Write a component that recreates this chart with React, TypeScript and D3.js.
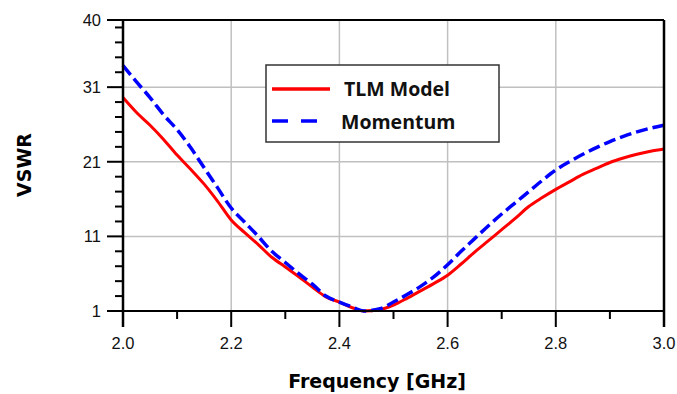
import React from 'react';
import * as d3 from 'd3';

const freq = [2.0, 2.025, 2.05, 2.075, 2.1, 2.125, 2.15, 2.175, 2.2, 2.225, 2.25, 2.275, 2.3, 2.325, 2.35, 2.375, 2.4, 2.425, 2.445, 2.475, 2.5, 2.525, 2.55, 2.575, 2.6, 2.625, 2.65, 2.675, 2.7, 2.725, 2.75, 2.775, 2.8, 2.825, 2.85, 2.875, 2.9, 2.925, 2.95, 2.975, 3.0];
const tlm = [29.6, 27.6, 25.9, 24.0, 21.9, 20.0, 18.0, 15.7, 13.2, 11.5, 9.9, 8.2, 6.9, 5.6, 4.2, 2.9, 2.2, 1.4, 1.0, 1.2, 1.8, 2.7, 3.7, 4.7, 5.8, 7.3, 8.9, 10.4, 11.9, 13.4, 15.0, 16.2, 17.3, 18.3, 19.3, 20.1, 20.9, 21.5, 22.0, 22.4, 22.7];
const momentum = [33.9, 31.7, 29.6, 27.3, 25.3, 22.9, 20.2, 17.5, 14.8, 12.9, 11.0, 9.0, 7.5, 6.0, 4.6, 3.0, 2.2, 1.5, 1.0, 1.3, 2.2, 3.2, 4.3, 5.6, 7.2, 9.0, 10.7, 12.4, 14.0, 15.5, 17.0, 18.5, 19.9, 21.0, 22.0, 22.9, 23.7, 24.4, 25.0, 25.5, 25.9];

const xTicks = [2.0, 2.2, 2.4, 2.6, 2.8, 3.0];
const xMinor = [2.1, 2.3, 2.5, 2.7, 2.9];
const yTicks = [1, 11, 21, 31, 40];
const yMinor = [3, 5, 7, 9, 13, 15, 17, 19, 23, 25, 27, 29, 33, 35, 37, 39];
const yGrid = [11, 21, 31];
const xGrid = [2.2, 2.4, 2.6, 2.8];

const left = 123, right = 664, top = 20, bottom = 311;

export default function App() {
  const x = d3.scaleLinear().domain([2.0, 3.0]).range([left, right]);
  const y = d3.scaleLinear().domain([1, 40]).range([bottom, top]);
  const line = d3.line<number>().x((_, i) => x(freq[i])).y(d => y(d)).curve(d3.curveMonotoneX);
  const axisFont = 'Arial, "Liberation Sans", sans-serif';
  const boldFont = '"DejaVu Sans", Verdana, sans-serif';

  return (
    <svg width={677} height={394} style={{ position: 'absolute', left: 0, top: 0 }}>
      <rect width={677} height={394} fill="#fff" />
      {yGrid.map(v => (
        <line key={'gy' + v} x1={left} x2={right} y1={y(v)} y2={y(v)} stroke="#c0c0c0" strokeWidth={1.5} />
      ))}
      {xGrid.map(v => (
        <line key={'gx' + v} x1={x(v)} x2={x(v)} y1={top} y2={bottom} stroke="#c0c0c0" strokeWidth={1.5} />
      ))}

      <path d={line(tlm) || ''} fill="none" stroke="#ff0000" strokeWidth={3} strokeLinejoin="round" />
      <path d={line(momentum) || ''} fill="none" stroke="#0000ff" strokeWidth={3.5} strokeDasharray="12 5" />

      {/* frame */}
      <line x1={left - 16} x2={right} y1={top} y2={top} stroke="#000" strokeWidth={2} />
      <line x1={right} x2={right} y1={top} y2={bottom + 16} stroke="#000" strokeWidth={2.5} />
      <line x1={left} x2={left} y1={top} y2={bottom + 16} stroke="#000" strokeWidth={2.5} />
      <line x1={left - 16} x2={right} y1={bottom} y2={bottom} stroke="#000" strokeWidth={2} />

      {yTicks.map(v => (
        <g key={'yt' + v}>
          <line x1={left - 16} x2={left} y1={y(v)} y2={y(v)} stroke="#000" strokeWidth={2} />
          <text x={101} y={y(v) + 6} textAnchor="end" fontSize={16.5} fontFamily={axisFont} fill="#111">{v}</text>
        </g>
      ))}
      {yMinor.map(v => (
        <line key={'ym' + v} x1={left - 8} x2={left} y1={y(v)} y2={y(v)} stroke="#000" strokeWidth={2} />
      ))}
      {xTicks.map(v => (
        <g key={'xt' + v}>
          <line x1={x(v)} x2={x(v)} y1={bottom} y2={bottom + 16} stroke="#000" strokeWidth={2} />
          <text x={x(v)} y={349} textAnchor="middle" fontSize={16.5} fontFamily={axisFont} fill="#111">{v.toFixed(1)}</text>
        </g>
      ))}
      {xMinor.map(v => (
        <line key={'xm' + v} x1={x(v)} x2={x(v)} y1={bottom} y2={bottom + 8} stroke="#000" strokeWidth={2} />
      ))}

      <text x={377} y={388} textAnchor="middle" fontSize={19} fontWeight="bold" fontFamily={boldFont}>Frequency [GHz]</text>
      <text transform="translate(31,165) rotate(-90)" textAnchor="middle" fontSize={19} fontWeight="bold" fontFamily={boldFont}>VSWR</text>

      {/* legend */}
      <rect x={266} y={65} width={233} height={77} fill="#fff" stroke="#333" strokeWidth={1.5} />
      <line x1={272} x2={330} y1={89} y2={89} stroke="#ff0000" strokeWidth={3.5} />
      <line x1={272} x2={318} y1={121} y2={121} stroke="#0000ff" strokeWidth={3.5} strokeDasharray="16 13" />
      <text x={344} y={96} fontSize={19.5} fontWeight="bold" fontFamily='"Open Sans", sans-serif' fill="#111">TLM Model</text>
      <text x={341} y={129} fontSize={19.5} fontWeight="bold" fontFamily='"Open Sans", sans-serif' fill="#111">Momentum</text>
    </svg>
  );
}
